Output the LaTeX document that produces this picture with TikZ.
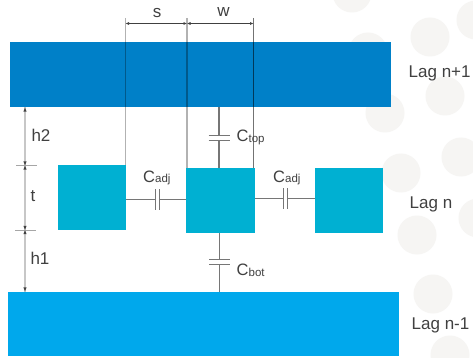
\documentclass[tikz,border=0pt]{standalone}
\usepackage{fontspec}
\setmainfont{Liberation Sans}
\usetikzlibrary{arrows.meta}
\definecolor{dots}{HTML}{F6F5F3}
\definecolor{barA}{HTML}{0080C8}
\definecolor{barB}{HTML}{00A8EC}
\definecolor{cond}{HTML}{00B0D2}
\definecolor{ink}{HTML}{404040}
\definecolor{wire}{HTML}{767676}
\newcommand{\capl}[1]{C\raisebox{-1pt}{\fontsize{11.5}{12}\selectfont #1}}
\tikzset{
  x=1pt,y=-1pt,
  dot/.style={fill=dots,draw=none},
  plate/.style={draw=none,inner sep=0pt,outer sep=0pt,rectangle,fill=barA},
  wirep/.style={draw=wire,line width=1.1pt},
  capv/.style={inner sep=0pt,outer sep=0pt,minimum width=21pt,minimum height=5pt},
  caph/.style={inner sep=0pt,outer sep=0pt,minimum width=4.5pt,minimum height=21pt},
  lab/.style={text=ink,font=\fontsize{17}{18}\selectfont,inner sep=0pt},
  caplab/.style={text=ink,font=\fontsize{16.5}{18}\selectfont,inner sep=0pt,anchor=base west},
  guide/.style={draw=black,opacity=.3,line width=1.2pt},
  dim/.style={draw=ink,line width=.6pt,{Latex[length=3.5pt,width=3pt]}-{Latex[length=3.5pt,width=3pt]}},
  vdim/.style={draw=black!22,line width=1.3pt},
  tick/.style={draw=black!35,line width=.7pt},
  tip/.style={draw=none,fill=ink}
}
\newcommand{\boxat}[6]{\node[plate,fill=#2,minimum width=#5pt,minimum height=#6pt,anchor=north west] (#1) at (#3,#4) {};}
\begin{document}
\begin{tikzpicture}
\useasboundingbox (0,0) rectangle (473,358);
\fill[white] (0,0) rectangle (473,358);
\foreach \cx/\cy in {352/-7,430/37,368/52,385/113,445/96,461/157,401/173,476/20,417/235,478/218,433/294,450/355}
  \fill[dot] (\cx,\cy) circle (19.5);

\boxat{top}{barA}{9.5}{42.5}{381.5}{65}
\boxat{bot}{barB}{8}{291.5}{391}{64.5}
\boxat{left}{cond}{57.5}{165}{68.5}{64.5}
\boxat{mid}{cond}{186}{168}{69}{65}
\boxat{right}{cond}{314.5}{168}{68.5}{65}

% guide lines
\coordinate (gs) at (125.5,18);
\coordinate (gm) at (187,18);
\coordinate (gw) at (253.5,18);
\draw[guide] (gs) -- (gs |- left.north);
\draw[guide] (gm) -- (gm |- mid.north);
\draw[draw=black,opacity=.55,line width=.7pt] (gw) -- (gw |- mid.north);
\coordinate (ds) at (125.5,23.5);
\coordinate (dm) at (187,23.5);
\coordinate (dw) at (253.5,23.5);
\draw[dim] (ds) -- (dm);
\draw[dim] (dm) -- (dw);

% vertical dimensions
\coordinate (a0) at (25,107.5);
\coordinate (a1) at (25,165.5);
\coordinate (a2) at (25,230);
\coordinate (a3) at (25,291.5);
\draw[vdim] (a0) -- (a3);
\draw[tick] (16,165.5) -- (36.5,165.5);
\draw[tick] (15,230.5) -- (36,230.5);
\foreach \p/\s in {a0/1,a1/-1,a1/1,a2/-1,a2/1,a3/-1}
  \fill[tip] (\p) ++(0,{\s*.3}) -- ++(-1.6,{\s*3.8}) -- ++(3.2,0) -- cycle;

% capacitors
\node[capv] (ct) at (219,137.8) {};
\node[capv] (cb) at (219.5,262.3) {};
\node[caph] (cl) at (157.3,199.8) {};
\node[caph] (cr) at (285.5,198.5) {};
\draw[wirep] (top.south -| ct) -- (ct.north);
\draw[wirep] (ct.south) -- (mid.north -| ct);
\draw[wirep] (ct.north west) -- (ct.north east);
\draw[wirep] (ct.south west) -- (ct.south east);
\draw[wirep] (mid.south -| cb) -- (cb.north);
\draw[wirep] (cb.south) -- (bot.north -| cb);
\draw[wirep] (cb.north west) -- (cb.north east);
\draw[wirep] (cb.south west) -- (cb.south east);
\draw[wirep] (left.east |- cl) -- (cl.west);
\draw[wirep] (cl.east) -- (mid.west |- cl);
\draw[wirep] (cl.north west) -- (cl.south west);
\draw[wirep] (cl.north east) -- (cl.south east);
\draw[wirep] (mid.east |- cr) -- (cr.west);
\draw[wirep] (cr.east) -- (right.west |- cr);
\draw[wirep] (cr.north west) -- (cr.south west);
\draw[wirep] (cr.north east) -- (cr.south east);

% labels
\node[lab] (ls) at (157,13) {s};
\node[lab] (lw) at (223.5,12) {w};
\node[lab] (lh2) at (41,135) {h2};
\node[lab] (lt) at (33,196) {t};
\node[lab] (lh1) at (40,258) {h1};
\node[lab,anchor=base west] (ln1) at (408.5,78) {Lag n+1};
\node[lab,anchor=base west] (ln) at (409.5,208) {Lag n};
\node[lab,anchor=base west] (ln0) at (411.5,329) {Lag n-1};
\node[caplab] (ctl) at (236.5,142) {\capl{top}};
\node[caplab] (cbl) at (236.5,275) {\capl{bot}};
\node[caplab] (cll) at (143,182) {\capl{adj}};
\node[caplab] (crl) at (273,182) {\capl{adj}};
\end{tikzpicture}
\end{document}
